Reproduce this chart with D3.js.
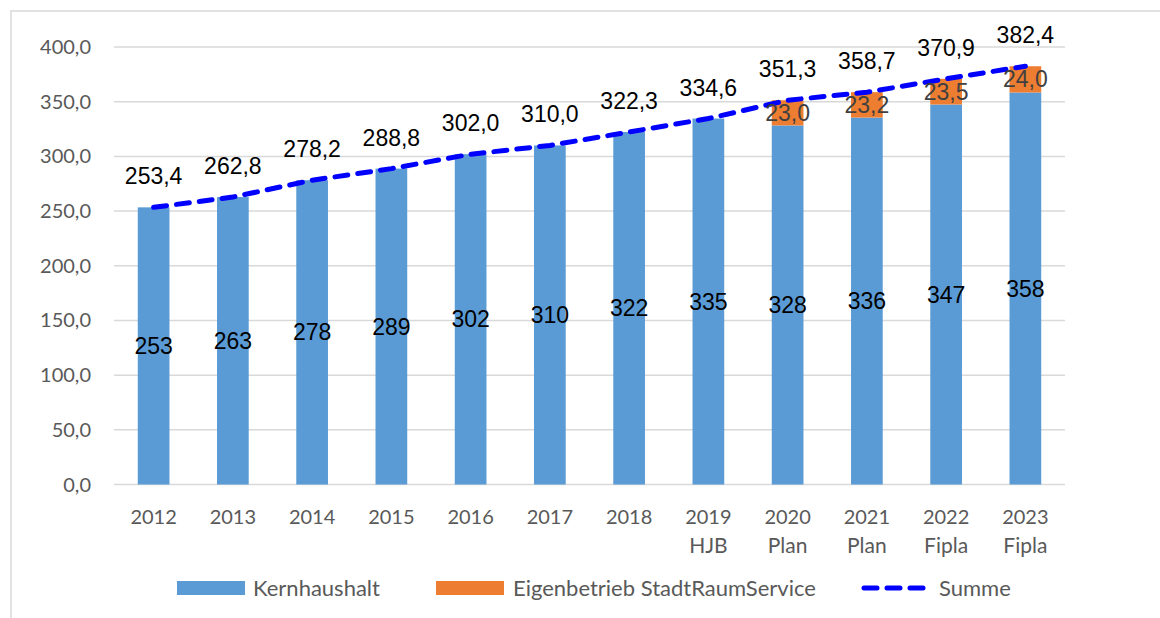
<!DOCTYPE html>
<html>
<head>
<meta charset="utf-8">
<script src="https://cdn.jsdelivr.net/npm/d3@7"></script>
<style>
  body { margin: 0; background: #fff; }
  svg { display: block; }
</style>
</head>
<body>
<svg id="chart"></svg>
<script>
const years = ["2012", "2013", "2014", "2015", "2016", "2017", "2018", "2019", "2020", "2021", "2022", "2023"];
const subLabels = ["", "", "", "", "", "", "", "HJB", "Plan", "Plan", "Fipla", "Fipla"];
const kernhaushalt = [253.4, 262.8, 278.2, 288.8, 302.0, 310.0, 322.3, 334.6, 328.3, 335.5, 347.4, 358.4];
const eigenbetrieb = [0, 0, 0, 0, 0, 0, 0, 0, 23.0, 23.2, 23.5, 24.0];
const summe = [253.4, 262.8, 278.2, 288.8, 302.0, 310.0, 322.3, 334.6, 351.3, 358.7, 370.9, 382.4];
const yTicks = [0, 50, 100, 150, 200, 250, 300, 350, 400];

const W = 1160, H = 618;
const blue = "#5b9bd5", orange = "#ed7d31", lineBlue = "#0000ff";
const fmt1 = v => v.toFixed(1).replace(".", ",");

const svg = d3.select("#chart").attr("width", W).attr("height", H);

// outer frame
svg.append("rect")
    .attr("x", 11).attr("y", 11)
    .attr("width", W + 20).attr("height", H + 20)
    .attr("fill", "#fff")
    .attr("stroke", "#d9d9d9")
    .attr("stroke-width", 1.5);

const x = d3.scaleBand().domain(years).range([114, 1065]);
const y = d3.scaleLinear().domain([0, 400]).range([484.5, 47]);
const barW = x.bandwidth() * 0.4;
const cx = d => x(d) + x.bandwidth() / 2;

// gridlines
svg.append("g").selectAll("line")
    .data(yTicks)
    .enter()
    .append("line")
    .attr("x1", 114).attr("x2", 1065)
    .attr("y1", d => y(d)).attr("y2", d => y(d))
    .attr("stroke", "#d9d9d9")
    .attr("stroke-width", 1.5);

// y tick labels
svg.append("g").selectAll("text")
    .data(yTicks)
    .enter()
    .append("text")
    .attr("x", 91)
    .attr("y", d => y(d) + 7)
    .attr("text-anchor", "end")
    .style("font-family", "Lato, sans-serif")
    .style("font-size", "20px")
    .style("fill", "#595959")
    .text(d => fmt1(d));

// x tick labels
const xl = svg.append("g").selectAll("text")
    .data(years)
    .enter()
    .append("text")
    .attr("text-anchor", "middle")
    .style("font-family", "Lato, sans-serif")
    .style("font-size", "20px")
    .style("fill", "#595959");
xl.append("tspan").attr("x", d => cx(d)).attr("y", 524).text(d => d);
xl.append("tspan").attr("x", d => cx(d)).attr("y", 553).style("font-size", "21px").text((d, i) => subLabels[i]);

// stacked bars
svg.append("g").selectAll("rect")
    .data(years)
    .enter()
    .append("rect")
    .attr("x", d => cx(d) - barW / 2)
    .attr("width", barW)
    .attr("y", (d, i) => y(kernhaushalt[i]))
    .attr("height", (d, i) => y(0) - y(kernhaushalt[i]))
    .attr("fill", blue);

svg.append("g").selectAll("rect")
    .data(years.filter((d, i) => eigenbetrieb[i] > 0))
    .enter()
    .append("rect")
    .attr("x", d => cx(d) - barW / 2)
    .attr("width", barW)
    .attr("y", d => { const i = years.indexOf(d); return y(kernhaushalt[i] + eigenbetrieb[i]); })
    .attr("height", d => { const i = years.indexOf(d); return y(kernhaushalt[i]) - y(kernhaushalt[i] + eigenbetrieb[i]); })
    .attr("fill", orange);

// Summe line
const line = d3.line().x((d, i) => cx(years[i])).y(d => y(d));
svg.append("path")
    .datum(summe)
    .attr("d", line)
    .attr("fill", "none")
    .attr("stroke", lineBlue)
    .attr("stroke-width", 5)
    .attr("stroke-linecap", "round")
    .attr("stroke-dasharray", "13,10");

const labelFont = "'Liberation Sans', Arial, sans-serif";

// Kernhaushalt labels (centered in bar)
svg.append("g").selectAll("text")
    .data(years)
    .enter()
    .append("text")
    .attr("x", d => cx(d))
    .attr("y", (d, i) => y(kernhaushalt[i] / 2) + 8)
    .attr("text-anchor", "middle")
    .style("font-family", labelFont)
    .style("font-size", "23px")
    .style("fill", "#000")
    .text((d, i) => Math.round(kernhaushalt[i]));

// Eigenbetrieb labels
svg.append("g").selectAll("text")
    .data(years.filter((d, i) => eigenbetrieb[i] > 0))
    .enter()
    .append("text")
    .attr("x", d => cx(d))
    .attr("y", d => { const i = years.indexOf(d); return y(kernhaushalt[i] + eigenbetrieb[i] / 2) + 8; })
    .attr("text-anchor", "middle")
    .style("font-family", labelFont)
    .style("font-size", "23px")
    .style("fill", "#404040")
    .text(d => fmt1(eigenbetrieb[years.indexOf(d)]));

// Summe labels
svg.append("g").selectAll("text")
    .data(summe)
    .enter()
    .append("text")
    .attr("x", (d, i) => cx(years[i]))
    .attr("y", d => y(d) - 23)
    .attr("text-anchor", "middle")
    .style("font-family", labelFont)
    .style("font-size", "23px")
    .style("fill", "#000")
    .text(d => fmt1(d));

// legend
const legend = svg.append("g").style("font-family", "Lato, sans-serif").style("font-size", "22px").style("fill", "#595959");
legend.append("rect").attr("x", 177).attr("y", 581).attr("width", 68).attr("height", 14).attr("fill", blue);
legend.append("text").attr("x", 253).attr("y", 596).text("Kernhaushalt");
legend.append("rect").attr("x", 436).attr("y", 581).attr("width", 68).attr("height", 14).attr("fill", orange);
legend.append("text").attr("x", 513).attr("y", 596).text("Eigenbetrieb StadtRaumService");
legend.append("line")
    .attr("x1", 864).attr("x2", 924).attr("y1", 588).attr("y2", 588)
    .attr("stroke", lineBlue).attr("stroke-width", 5)
    .attr("stroke-linecap", "round").attr("stroke-dasharray", "13,10");
legend.append("text").attr("x", 939).attr("y", 596).text("Summe");
</script>
</body>
</html>
